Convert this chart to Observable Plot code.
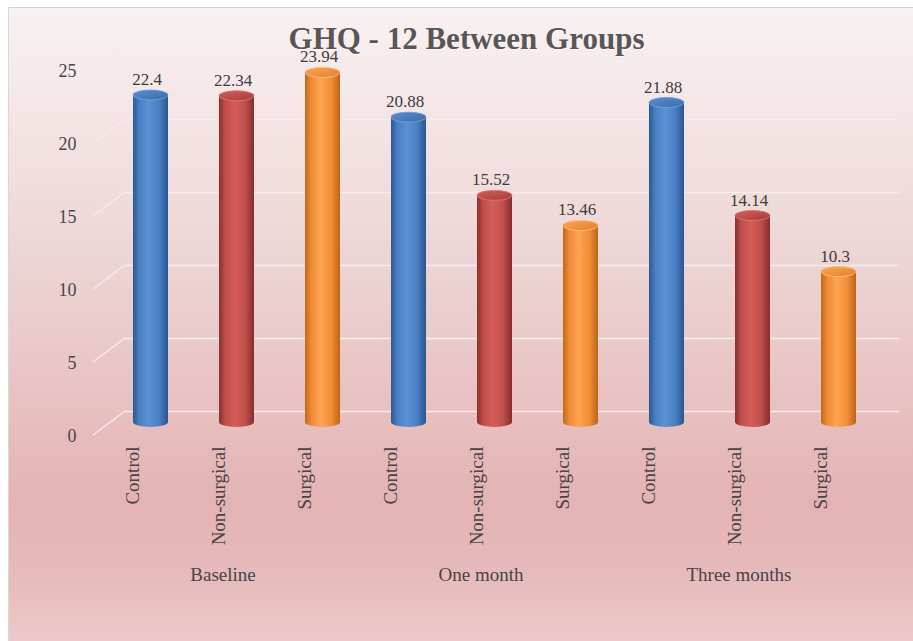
<!DOCTYPE html>
<html>
<head>
<meta charset="utf-8">
<script src="https://cdn.jsdelivr.net/npm/d3@7"></script>
<script src="https://cdn.jsdelivr.net/npm/@observablehq/plot@0.6"></script>
<style>
  html, body { margin: 0; padding: 0; background: #ffffff; }
  #wrap { position: relative; width: 913px; height: 641px; overflow: hidden; }
  #bg { position: absolute; left: 8px; top: 7px; right: 0; bottom: 0;
        border-top: 1px solid #d6d0d0; border-left: 1px solid #ddd6d6;
        background: linear-gradient(to bottom, #f8f1f1 0%, #f3e3e3 20%, #ecd0d0 45%, #e4b3b3 78%, #e6bbbb 90%, #edc9c9 100%); }
  #title { position: absolute; left: 10px; width: 913px; top: 21px; text-align: center;
           font-family: "Liberation Serif", serif; font-weight: bold; font-size: 31px;
           color: #5a5656; text-shadow: 1px 1px 1px rgba(255,255,255,0.6); pointer-events: none; }
  #chart { position: absolute; left: 0; top: 0; }
</style>
</head>
<body>
<svg width="0" height="0" style="position:absolute">
  <defs>
    <linearGradient id="gBlue" x1="0" x2="1" y1="0" y2="0">
      <stop offset="0%" stop-color="#2b5894"/>
      <stop offset="18%" stop-color="#4a7fc2"/>
      <stop offset="45%" stop-color="#5b91d4"/>
      <stop offset="75%" stop-color="#4a7fc2"/>
      <stop offset="100%" stop-color="#2a5590"/>
    </linearGradient>
    <linearGradient id="gRed" x1="0" x2="1" y1="0" y2="0">
      <stop offset="0%" stop-color="#8a302d"/>
      <stop offset="18%" stop-color="#bf4d4a"/>
      <stop offset="45%" stop-color="#d55d5a"/>
      <stop offset="75%" stop-color="#c04e4b"/>
      <stop offset="100%" stop-color="#862e2b"/>
    </linearGradient>
    <linearGradient id="gOrange" x1="0" x2="1" y1="0" y2="0">
      <stop offset="0%" stop-color="#c0691a"/>
      <stop offset="18%" stop-color="#f08b35"/>
      <stop offset="45%" stop-color="#fda453"/>
      <stop offset="75%" stop-color="#f28e38"/>
      <stop offset="100%" stop-color="#bb6517"/>
    </linearGradient>
    <linearGradient id="cBlue" x1="0" x2="1" y1="0" y2="1">
      <stop offset="0%" stop-color="#5c8fd0"/>
      <stop offset="100%" stop-color="#3a6aa8"/>
    </linearGradient>
    <linearGradient id="cRed" x1="0" x2="1" y1="0" y2="1">
      <stop offset="0%" stop-color="#d25d5a"/>
      <stop offset="100%" stop-color="#a63d3a"/>
    </linearGradient>
    <linearGradient id="cOrange" x1="0" x2="1" y1="0" y2="1">
      <stop offset="0%" stop-color="#fca656"/>
      <stop offset="100%" stop-color="#e07f2a"/>
    </linearGradient>
  </defs>
</svg>
<div id="wrap">
  <div id="bg"></div>
  <div id="chart"></div>
  <div id="title">GHQ - 12 Between Groups</div>
</div>
<script>
// ---- data ----
const groups = ["Baseline", "One month", "Three months"];
const categories = ["Control", "Non-surgical", "Surgical"];
const controlValues = [22.4, 20.88, 21.88];
const nonSurgicalValues = [22.34, 15.52, 14.14];
const surgicalValues = [23.94, 13.46, 10.3];
const yTicks = [0, 5, 10, 15, 20, 25];

const seriesValues = [controlValues, nonSurgicalValues, surgicalValues];
const table = [];
groups.forEach((g, gi) => {
  categories.forEach((c, ci) => {
    table.push({group: g, category: c, key: g + "|" + c, value: seriesValues[ci][gi]});
  });
});
const xDomain = table.map(d => d.key);
const bodyFill = {"Control": "url(#gBlue)", "Non-surgical": "url(#gRed)", "Surgical": "url(#gOrange)"};
const capFill = {"Control": "url(#cBlue)", "Non-surgical": "url(#cRed)", "Surgical": "url(#cOrange)"};
const capStroke = {"Control": "#7aa5dc", "Non-surgical": "#e07a77", "Surgical": "#ffc080"};

const serif = "Liberation Serif, Times New Roman, serif";
const R = 17.5;

const bodyMarks = categories.map(c => Plot.barY(table.filter(d => d.category === c), {
  x: "key", y1: 0, y2: "value", fill: bodyFill[c],
  rx: R, ry: 5, insetTop: -5, insetBottom: -5
}));
const capMarks = categories.map(c => Plot.barY(table.filter(d => d.category === c), {
  x: "key", y1: "value", y2: "value", fill: capFill[c], stroke: capStroke[c], strokeWidth: 0.8,
  rx: R, ry: 5, insetTop: -5, insetBottom: -5
}));

const diagonals = (index, scales, values, dimensions) => {
  const g = d3.create("svg:g");
  for (const t of yTicks) {
    const y = scales.y(t);
    g.append("line")
      .attr("x1", dimensions.marginLeft - 15).attr("y1", y + 13)
      .attr("x2", dimensions.marginLeft + 17).attr("y2", y - 11)
      .attr("stroke", "#f4eaea").attr("stroke-width", 1.5);
  }
  return g.node();
};

const plot = Plot.plot({
  width: 913,
  height: 641,
  marginLeft: 108,
  marginRight: 31,
  marginTop: 57,
  marginBottom: 219,
  style: {background: "transparent", fontFamily: serif, color: "#444"},
  x: {domain: xDomain, paddingInner: 0.59, paddingOuter: 0.295, axis: null},
  y: {domain: [0, 25], axis: null},
  marks: [
    Plot.ruleY(yTicks, {stroke: "#f5eded", strokeWidth: 1.5, dx: 17, dy: -11}),
    diagonals,
    Plot.text(yTicks, {y: d => d, text: d => String(d), frameAnchor: "left", textAnchor: "end",
      dx: -32, dy: 14, fontSize: 18, fill: "#4a4646"}),
    ...bodyMarks,
    ...capMarks,
    Plot.text(table, {x: "key", y: "value", text: d => String(d.value), dy: -16, dx: -4,
      fontSize: 17, fill: "#3f3b3b", letterSpacing: "1px"}),
    Plot.text(table, {x: "key", text: "category", frameAnchor: "bottom", rotate: -90,
      textAnchor: "end", dy: 24, dx: -12, fontSize: 19, fill: "#4a4444"}),
    Plot.text(groups, {x: d => d + "|Non-surgical", text: d => d, frameAnchor: "bottom",
      dy: 158, dx: -14, fontSize: 19, fill: "#4a4444", letterSpacing: "0.5px", wordSpacing: "-3px"})
  ]
});
document.getElementById("chart").appendChild(plot);
</script>
</body>
</html>
